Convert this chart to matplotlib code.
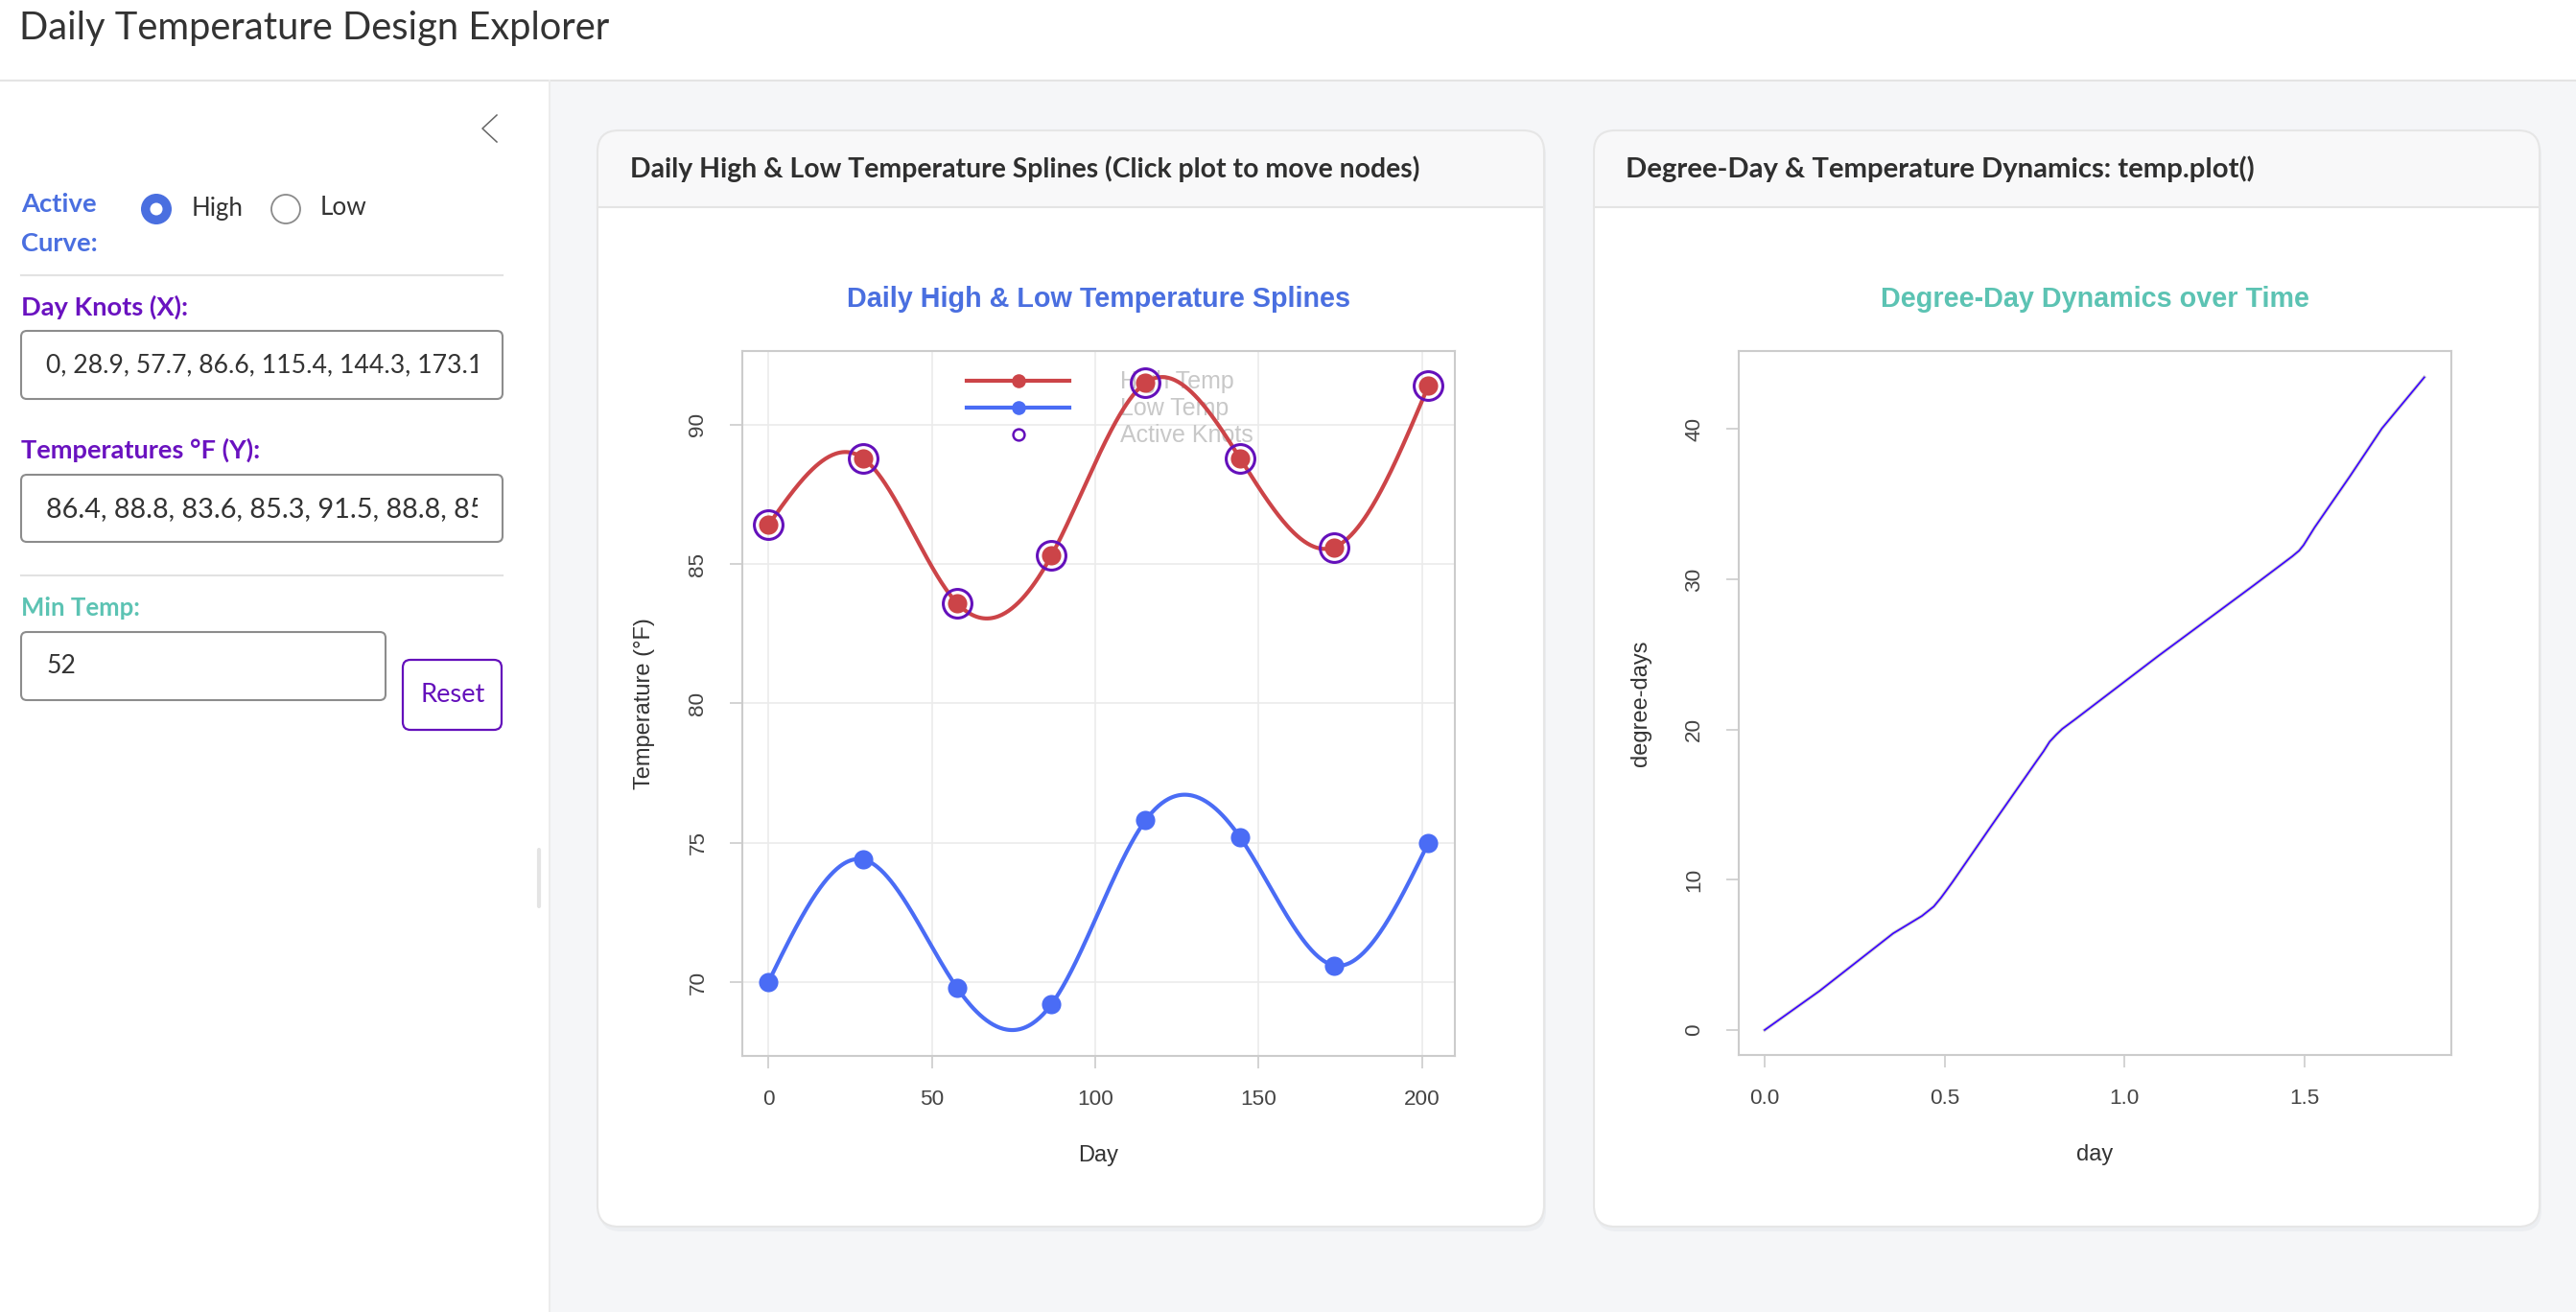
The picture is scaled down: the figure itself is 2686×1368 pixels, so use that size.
import numpy as np
import matplotlib
matplotlib.use("Agg")
import matplotlib.pyplot as plt
from matplotlib.patches import FancyBboxPatch, Rectangle, Circle
from matplotlib.lines import Line2D

W, H = 2686, 1368

# spline knots (left panel)
knot_day = [0, 28.9, 57.7, 86.6, 115.4, 144.3, 173.1, 202.0]
high_temp = [86.4, 88.8, 83.6, 85.3, 91.5, 88.8, 85.6, 91.4]
low_temp = [70.0, 74.4, 69.8, 69.2, 75.8, 75.2, 70.6, 75.0]

# cumulative degree-days (right panel)
dd_day = [0.0, 0.1525, 0.357, 0.437, 0.470, 0.490, 0.506, 0.522, 0.632, 0.756,
          0.775, 0.792, 0.810, 0.827, 0.863, 1.093, 1.360, 1.466, 1.485, 1.4975,
          1.510, 1.528, 1.626, 1.715, 1.833]
dd_value = [0.0, 2.60, 6.43, 7.59, 8.22, 8.80, 9.32, 9.85, 13.66, 17.91,
            18.55, 19.19, 19.65, 20.04, 20.68, 24.88, 29.61, 31.52, 31.90, 32.27,
            32.75, 33.44, 36.84, 40.03, 43.44]

x_ticks1 = [0, 50, 100, 150, 200]
y_ticks1 = [70, 75, 80, 85, 90]
x_ticks2 = [0.0, 0.5, 1.0, 1.5]
y_ticks2 = [0, 10, 20, 30, 40]

knots_text = "0, 28.9, 57.7, 86.6, 115.4, 144.3, 173.1, 202"
temps_text = "86.4, 88.8, 83.6, 85.3, 91.5, 88.8, 85.6, 91.4"
min_temp = "52"

RED = "#cc4448"
BLUE = "#4a6cf5"
PURPLE = "#6410bb"
UI_FONT = ["Lato", "DejaVu Sans"]
PLOT_FONT = ["Liberation Sans", "DejaVu Sans"]


def natural_spline(x, y, xs):
    x = np.asarray(x, float)
    y = np.asarray(y, float)
    n = len(x)
    h = np.diff(x)
    A = np.zeros((n, n))
    b = np.zeros(n)
    A[0, 0] = A[-1, -1] = 1
    for i in range(1, n - 1):
        A[i, i - 1] = h[i - 1]
        A[i, i] = 2 * (h[i - 1] + h[i])
        A[i, i + 1] = h[i]
        b[i] = 3 * ((y[i + 1] - y[i]) / h[i] - (y[i] - y[i - 1]) / h[i - 1])
    c = np.linalg.solve(A, b)
    bb = (y[1:] - y[:-1]) / h - h * (2 * c[:-1] + c[1:]) / 3
    d = (c[1:] - c[:-1]) / (3 * h)
    idx = np.clip(np.searchsorted(x, xs) - 1, 0, n - 2)
    t = xs - x[idx]
    return y[idx] + bb[idx] * t + c[idx] * t ** 2 + d[idx] * t ** 3


fig = plt.figure(figsize=(W / 100, H / 100), dpi=100)
fig.patch.set_facecolor("#f5f6f8")
renderer = fig.canvas.get_renderer()

# ---- page chrome drawn in pixel coordinates ----
ui = fig.add_axes([0, 0, 1, 1])
ui.set_xlim(0, W)
ui.set_ylim(H, 0)
ui.axis("off")


def rbox(x0, y0, x1, y1, r, fc, ec="none", lw=0, z=1):
    p = FancyBboxPatch((x0, y0), x1 - x0, y1 - y0,
                       boxstyle=f"round,pad=0,rounding_size={r}",
                       fc=fc, ec=ec, lw=lw, zorder=z)
    ui.add_patch(p)
    return p


def uitext(x, y, s, width, color="#333333", weight="normal", ha="left",
           prefix=None, **kw):
    # size the text so that it (or its prefix) spans `width` pixels
    t = ui.text(x, y, prefix or s, fontsize=20, color=color, fontweight=weight,
                ha=ha, va="center", family=UI_FONT, **kw)
    w = t.get_window_extent(renderer).width
    t.set_fontsize(20 * width / w)
    t.set_text(s)
    return t


# header + sidebar
ui.add_patch(Rectangle((0, 0), W, 84, fc="white", ec="none", zorder=1))
ui.plot([0, W], [84, 84], color="#e4e4e4", lw=1.5, zorder=2)
ui.add_patch(Rectangle((0, 84), 573, H - 84, fc="white", ec="none", zorder=1))
ui.plot([573, 573], [84, H], color="#ececec", lw=1.5, zorder=2)
uitext(20, 30, "Daily Temperature Design Explorer", 618, color="#333333")

# collapse chevron and resize handle
ui.plot([518, 503, 518], [120, 134, 148], color="#666666", lw=1.1, zorder=3)
ui.plot([562, 562], [886, 945], color="#e4e4e4", lw=3, solid_capstyle="round", zorder=3)

# active curve radio buttons
uitext(22, 213, "Active", 78.5, color="#4a6fe0", weight="bold")
uitext(22, 254, "Curve:", 80, color="#4a6fe0", weight="bold")
ui.add_patch(Circle((163, 218), 16, fc="#4a6fe0", ec="none", zorder=3))
ui.add_patch(Circle((163, 218), 6.5, fc="white", ec="none", zorder=4))
uitext(200, 217, "High", 54)
ui.add_patch(Circle((298, 218), 15, fc="white", ec="#8a8a8a", lw=1.3, zorder=3))
uitext(334, 217, "Low", 48.6)
ui.plot([22, 524], [287, 287], color="#e2e2e2", lw=1.5, zorder=2)

# knot inputs
uitext(22, 320, "Day Knots (X):", 174, color="#6a12c0", weight="bold")
rbox(22, 345, 524, 416, 6, "white", "#8c8c8c", 1.5, z=2)
clip1 = Rectangle((40, 345), 458, 71, transform=ui.transData)
t1 = uitext(48, 381, knots_text, 380, prefix="0, 28.9, 57.7, 86.6, 115.4, 144.3,",
            zorder=3)
t1.set_clip_on(True)
t1.set_clip_path(clip1)

uitext(22, 469, "Temperatures °F (Y):", 250, color="#6a12c0", weight="bold")
rbox(22, 495, 524, 565, 6, "white", "#8c8c8c", 1.5, z=2)
clip2 = Rectangle((40, 495), 458, 70, transform=ui.transData)
t2 = uitext(48, 531, temps_text, 418, prefix="86.4, 88.8, 83.6, 85.3, 91.5, 88.8,",
            zorder=3)
t2.set_clip_on(True)
t2.set_clip_path(clip2)
ui.plot([22, 524], [600, 600], color="#e2e2e2", lw=1.5, zorder=2)

uitext(22, 634, "Min Temp:", 123.6, color="#5cc3b3", weight="bold")
rbox(22, 659, 402, 730, 6, "white", "#8c8c8c", 1.5, z=2)
uitext(48, 695, min_temp, 30.6, zorder=3)
rbox(420, 688, 523, 761, 8, "white", PURPLE, 1.6, z=2)
uitext(472, 724, "Reset", 67.7, color=PURPLE, ha="center", zorder=3)

# cards
cards = [
    (623, 1610, "Daily High & Low Temperature Splines (Click plot to move nodes)", 657, 825),
    (1662, 2648, "Degree-Day & Temperature Dynamics: temp.plot()", 1695, 655),
]
for x0, x1, head, tx, tw in cards:
    rbox(x0 + 2, 140, x1 + 2, 1284, 22, "#eceef1", z=1)
    rbox(x0, 136, x1, 1279, 22, "white", z=2)
    rbox(x0, 136, x1, 240, 22, "#f8f8f9", z=3)
    ui.add_patch(Rectangle((x0 + 1, 216), x1 - x0 - 2, 40, fc="white", ec="none", zorder=4))
    ui.plot([x0, x1], [216, 216], color="#e4e4e4", lw=1.5, zorder=5)
    rbox(x0, 136, x1, 1279, 22, "none", "#e6e6e6", 1.5, z=6)
    uitext(tx, 176, head, tw, color="#2f2f2f", weight="bold", zorder=7)


def style_axes(ax, xt, yt, xticklabels=None):
    for sp in ax.spines.values():
        sp.set_color("#cccccc")
        sp.set_linewidth(1.5)
    ax.set_xticks(xt)
    ax.set_yticks(yt)
    if xticklabels is not None:
        ax.set_xticklabels(xticklabels)
    ax.tick_params(direction="out", length=9.4, width=1.2, color="#cccccc",
                   labelcolor="#444444", labelsize=16.2, pad=16)
    ax.tick_params(axis="y", labelrotation=90)
    for lab in ax.get_yticklabels():
        lab.set_va("center")
    for lab in ax.get_xticklabels() + ax.get_yticklabels():
        lab.set_family(PLOT_FONT)


# ---- left panel: splines ----
ax1 = fig.add_axes([773.7 / W, (H - 1101) / H, 743.3 / W, 735.3 / H])
ax1.set_facecolor("white")
xs = np.linspace(knot_day[0], knot_day[-1], 600)
ax1.plot(xs, natural_spline(knot_day, high_temp, xs), color=RED, lw=3.0, zorder=2)
ax1.plot(xs, natural_spline(knot_day, low_temp, xs), color=BLUE, lw=3.0, zorder=2)
ax1.plot(knot_day, high_temp, "o", color=RED, ms=14.5, mec="none", zorder=3)
ax1.plot(knot_day, low_temp, "o", color=BLUE, ms=14.5, mec="none", zorder=3)
ax1.plot(knot_day, high_temp, "o", ms=21.5, mfc="none", mec=PURPLE, mew=2.2, zorder=4)
ax1.set_xlim(-8.08, 210.08)
ax1.set_ylim(67.35, 92.65)
ax1.grid(True, color="#ebebeb", lw=1.2)
ax1.set_axisbelow(True)
style_axes(ax1, x_ticks1, y_ticks1)
ax1.set_title("Daily High & Low Temperature Splines", fontsize=20.7, fontweight="bold",
              color="#4a6fe0", family=PLOT_FONT, pad=33)
ax1.set_xlabel("Day", fontsize=17, color="#333333", family=PLOT_FONT)
ax1.set_ylabel("Temperature (°F)", fontsize=17, color="#333333", family=PLOT_FONT)
ax1.xaxis.set_label_coords(0.5, -0.126)
ax1.yaxis.set_label_coords(-0.122, 0.5)

handles = [
    Line2D([], [], color=RED, lw=3.0, marker="o", ms=10.5, mec="none"),
    Line2D([], [], color=BLUE, lw=3.0, marker="o", ms=10.5, mec="none"),
    Line2D([], [], ls="none", marker="o", ms=8.5, mfc="none", mec=PURPLE, mew=1.8),
]
leg = ax1.legend(handles, ["High Temp", "Low Temp", "Active Knots"], loc="upper left",
                 bbox_to_anchor=(0.315, 0.972), frameon=False, borderpad=0,
                 borderaxespad=0, handlelength=4.3, handletextpad=2.1,
                 labelspacing=0.16, numpoints=1,
                 prop={"family": PLOT_FONT, "size": 18}, labelcolor="#c8c8c8")
leg.set_zorder(1)

# ---- right panel: degree-days ----
ax2 = fig.add_axes([1812.6 / W, (H - 1100) / H, 743.0 / W, 734.2 / H])
ax2.set_facecolor("white")
ax2.plot(dd_day, dd_value, color="#d2d2d2", lw=2.6, zorder=2)
ax2.plot(dd_day, dd_value, color="#3a00ff", lw=1.2, zorder=3)
ax2.set_xlim(-0.073, 1.907)
ax2.set_ylim(-1.66, 45.2)
style_axes(ax2, x_ticks2, y_ticks2, ["0.0", "0.5", "1.0", "1.5"])
ax2.set_title("Degree-Day Dynamics over Time", fontsize=20.7, fontweight="bold",
              color="#5cc3b3", family=PLOT_FONT, pad=33)
ax2.set_xlabel("day", fontsize=17, color="#333333", family=PLOT_FONT)
ax2.set_ylabel("degree-days", fontsize=17, color="#333333", family=PLOT_FONT)
ax2.xaxis.set_label_coords(0.5, -0.126)
ax2.yaxis.set_label_coords(-0.122, 0.5)

fig.savefig("out.png", dpi=100, facecolor=fig.get_facecolor())
